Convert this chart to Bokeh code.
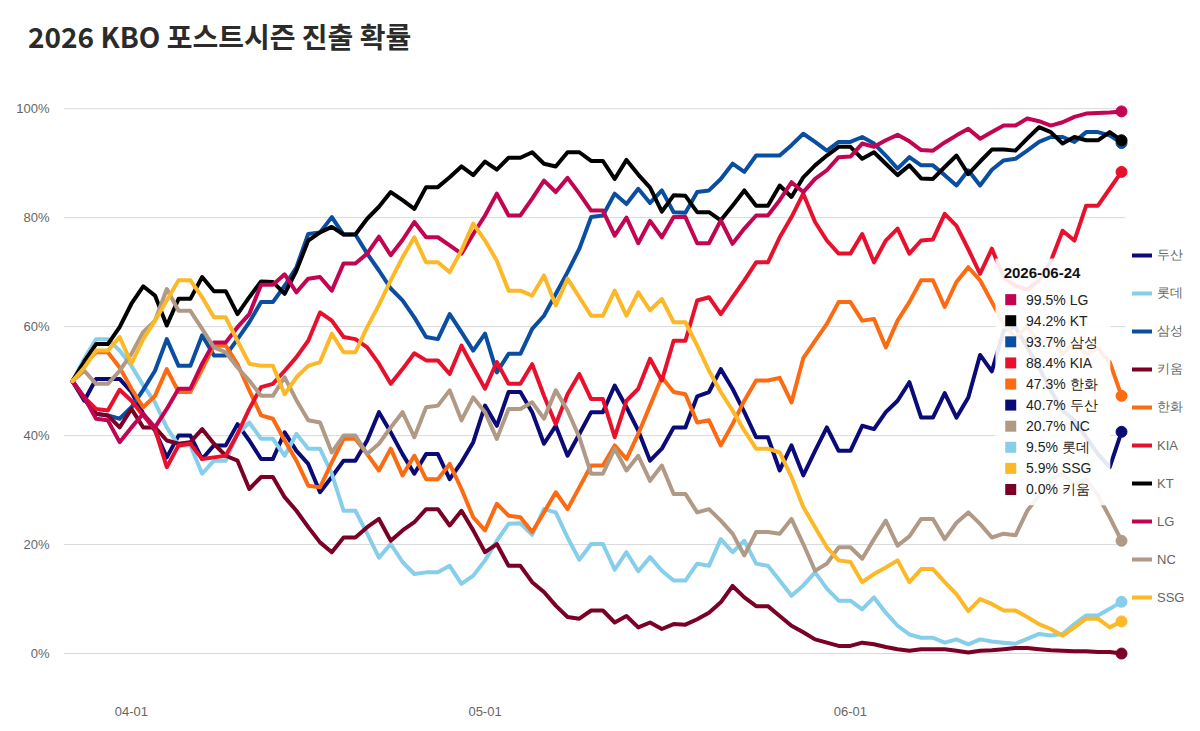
import pandas as pd
from bokeh.plotting import figure
from bokeh.layouts import column
from bokeh.models import (Range1d, FixedTicker, PrintfTickFormatter, DatetimeTickFormatter,
                          Legend, LegendItem, ColumnDataSource, BoxAnnotation, Div)
from bokeh.core.properties import value
from bokeh.embed import file_html
from bokeh.resources import INLINE

# ---------------- data ----------------
dates = pd.date_range("2026-03-27", "2026-06-24", freq="D")
tick_dates = ["2026-04-01", "2026-05-01", "2026-06-01"]
y_ticks = [0, 20, 40, 60, 80, 100]
title_text = "2026 KBO 포스트시즌 진출 확률"

teams = ["두산", "롯데", "삼성", "키움", "한화", "KIA", "KT", "LG", "NC", "SSG"]

doosan = [50, 46.4, 50.4, 50.4, 50.4, 48.0, 44.0, 40.9, 36.0, 40.0, 40.0, 35.7, 38.2, 38.2, 42.1, 39.1, 35.7, 35.7, 40.6, 37.2,
          34.8, 29.6, 32.4, 35.4, 35.4, 39.1, 44.3, 40.6, 36.6, 33.0, 36.6, 36.6, 32.0, 35.1, 38.8, 45.5, 41.8, 48.0, 48.0, 44.3,
          38.5, 41.8, 36.3, 40.3, 44.3, 44.3, 49.2, 45.2, 40.9, 35.4, 37.6, 41.5, 41.5, 47.2, 48.0, 52.2, 48.6, 44.3, 39.7, 39.7,
          33.6, 38.2, 32.7, 37.2, 41.5, 37.2, 37.2, 41.8, 41.2, 44.3, 46.4, 49.8, 43.3, 43.3, 47.8, 43.3, 47.0, 54.8, 51.8, 59.3,
          59.9, 56.2, 52.5, 48.3, 44.6, 42.8, 39.7, 36.6, 34.2, 40.7]
lotte = [50, 54.1, 57.7, 57.7, 55.6, 52.8, 49.2, 46.1, 41.5, 38.2, 38.2, 33.0, 35.4, 35.4, 40.3, 42.4, 39.4, 39.4, 36.3, 40.3,
         37.6, 37.6, 33.0, 26.2, 26.2, 22.0, 17.6, 20.1, 16.8, 14.6, 14.9, 14.9, 16.1, 12.8, 14.3, 17.1, 20.7, 23.8, 23.9, 21.8,
         26.5, 25.9, 21.3, 17.2, 20.1, 20.1, 15.4, 18.6, 15.1, 17.7, 15.2, 13.4, 13.4, 16.5, 16.1, 21.0, 18.6, 20.7, 16.5, 16.1,
         13.4, 10.6, 12.5, 14.9, 11.9, 9.7, 9.7, 8.1, 10.3, 7.5, 5.1, 3.5, 2.9, 2.9, 2.0, 2.6, 1.7, 2.6, 2.2, 2.0,
         1.8, 2.7, 3.6, 3.3, 3.6, 5.4, 7.0, 7.0, 8.2, 9.5]
samsung = [50, 46.7, 44.0, 43.7, 43.1, 45.2, 48.4, 51.9, 57.7, 52.8, 52.8, 58.4, 54.7, 54.7, 57.7, 60.8, 64.5, 64.5, 67.5, 70.9,
           77.0, 77.3, 80.1, 76.9, 76.9, 73.4, 70.3, 67.0, 64.8, 61.7, 58.1, 57.7, 62.3, 59.0, 55.6, 58.7, 51.6, 55.0, 55.0, 59.6,
           62.0, 66.0, 70.0, 74.3, 80.1, 80.4, 84.4, 82.5, 85.3, 82.7, 85.0, 81.0, 80.9, 84.7, 85.0, 87.1, 89.9, 88.4, 91.4, 91.4,
           91.4, 93.3, 95.4, 93.9, 92.3, 93.9, 93.9, 94.8, 93.6, 91.4, 89.0, 91.1, 89.6, 89.6, 87.8, 85.9, 88.7, 85.9, 88.8, 90.5,
           90.8, 92.3, 93.9, 94.8, 94.8, 93.9, 95.7, 95.7, 95.1, 93.7]
kiwoom = [50, 46.7, 44.0, 43.7, 41.5, 44.9, 41.5, 41.5, 39.1, 38.5, 38.8, 41.2, 38.5, 36.3, 35.4, 30.2, 32.4, 32.4, 28.7, 26.2,
          23.2, 20.4, 18.6, 21.3, 21.3, 23.2, 24.7, 20.7, 22.6, 24.1, 26.5, 26.5, 23.5, 26.2, 22.6, 18.6, 20.1, 16.1, 16.1, 13.1,
          11.3, 8.8, 6.7, 6.4, 7.9, 7.9, 5.7, 6.9, 4.8, 5.7, 4.5, 5.4, 5.3, 6.3, 7.5, 9.4, 12.4, 10.3, 8.7, 8.7,
          6.9, 5.1, 3.9, 2.6, 2.0, 1.4, 1.4, 2.0, 1.7, 1.2, 0.8, 0.5, 0.8, 0.8, 0.8, 0.5, 0.2, 0.5, 0.6, 0.8,
          1.0, 1.0, 0.8, 0.6, 0.5, 0.4, 0.4, 0.3, 0.3, 0.0]
hanwha = [50, 53.1, 55.3, 55.3, 52.5, 48.6, 45.2, 47.3, 52.2, 48.0, 48.0, 52.2, 56.5, 56.5, 53.1, 48.3, 43.7, 43.1, 39.1, 35.4,
          30.8, 30.5, 35.1, 39.4, 39.4, 36.6, 33.6, 37.6, 32.7, 36.3, 32.0, 32.0, 34.8, 30.2, 25.0, 22.6, 27.5, 25.3, 25.0, 22.3,
          25.9, 29.6, 26.5, 30.5, 34.5, 34.5, 38.2, 35.7, 40.3, 45.5, 50.7, 48.0, 47.6, 42.4, 42.8, 38.2, 42.1, 46.4, 50.1, 50.1,
          50.6, 46.1, 54.2, 57.4, 60.5, 64.5, 64.5, 61.1, 61.4, 56.2, 61.1, 64.5, 68.5, 68.5, 63.6, 68.2, 70.9, 68.5, 64.5, 60.5,
          58.0, 60.0, 57.0, 58.0, 55.0, 57.0, 55.0, 56.0, 53.5, 47.3]
kia = [50, 47.0, 44.9, 44.6, 48.4, 46.4, 43.7, 41.2, 34.2, 38.2, 38.5, 35.7, 36.0, 36.3, 40.3, 44.9, 48.9, 49.5, 51.9, 54.4,
       57.4, 62.6, 61.1, 58.1, 57.7, 56.2, 53.2, 49.5, 52.2, 55.1, 53.8, 53.8, 51.3, 56.5, 52.5, 48.6, 53.5, 49.5, 49.5, 53.1,
       47.3, 42.1, 47.6, 51.3, 46.7, 46.7, 39.7, 46.4, 48.6, 54.1, 50.1, 57.4, 57.4, 64.8, 65.4, 62.3, 65.4, 68.5, 71.8, 71.8,
       76.4, 80.1, 84.4, 79.2, 75.8, 73.4, 73.4, 77.0, 71.8, 75.8, 78.0, 73.4, 75.8, 76.0, 80.7, 78.5, 74.2, 69.7, 74.3, 69.0,
       67.5, 66.8, 68.5, 72.0, 77.6, 75.8, 82.2, 82.2, 85.3, 88.4]
kt = [50, 53.6, 56.8, 56.8, 59.9, 64.2, 67.4, 65.7, 60.2, 65.1, 65.1, 69.1, 66.5, 66.5, 62.3, 65.4, 68.3, 68.2, 66.0, 70.3,
      75.8, 77.3, 78.3, 76.9, 76.9, 79.8, 82.0, 84.7, 83.2, 81.6, 85.6, 85.6, 87.4, 89.4, 87.8, 90.3, 88.8, 91.0, 91.0, 92.0,
      89.9, 89.4, 92.0, 92.0, 90.4, 90.4, 87.1, 90.6, 87.9, 85.5, 81.1, 84.1, 84.0, 81.0, 81.0, 79.5, 82.2, 85.0, 82.2, 82.2,
      85.9, 83.8, 87.4, 89.6, 91.4, 93.0, 93.0, 90.8, 92.0, 89.9, 87.8, 89.6, 87.2, 87.1, 89.3, 91.4, 88.0, 90.3, 92.5, 92.5,
      92.3, 94.5, 96.6, 95.7, 93.6, 94.8, 94.2, 94.2, 95.7, 94.2]
lg = [50, 47.0, 43.1, 42.8, 38.8, 41.5, 44.0, 41.5, 44.9, 48.6, 48.6, 53.2, 57.1, 57.1, 59.9, 62.3, 67.7, 67.7, 69.6, 66.3,
      68.8, 69.1, 66.6, 71.6, 71.6, 73.4, 76.5, 73.1, 75.9, 79.2, 76.4, 76.4, 74.9, 73.4, 77.0, 80.4, 84.4, 80.4, 80.4, 83.5,
      86.8, 84.7, 87.3, 84.4, 81.3, 81.3, 76.7, 80.0, 75.3, 79.4, 76.4, 80.1, 80.1, 75.3, 75.3, 79.5, 75.2, 78.0, 80.4, 80.4,
      83.2, 86.5, 84.7, 87.1, 88.7, 91.1, 91.2, 93.6, 93.0, 94.2, 95.2, 94.0, 92.4, 92.3, 93.8, 95.1, 96.3, 94.5, 95.7, 96.9,
      96.9, 98.2, 97.7, 96.9, 97.5, 98.5, 99.1, 99.2, 99.3, 99.5]
nc = [50, 51.9, 49.5, 49.5, 51.9, 55.0, 59.0, 61.1, 66.9, 62.9, 62.9, 59.6, 56.2, 55.3, 52.5, 50.1, 47.3, 47.3, 50.7, 46.5,
      42.8, 42.4, 36.9, 40.0, 40.0, 36.6, 38.5, 41.5, 44.3, 39.7, 45.2, 45.5, 48.3, 42.8, 47.0, 44.3, 39.4, 44.9, 44.9, 46.1,
      43.1, 48.3, 44.6, 39.7, 33.0, 33.0, 37.6, 33.6, 36.3, 31.7, 34.5, 29.3, 29.3, 25.9, 26.5, 24.4, 22.0, 18.0, 22.3, 22.3,
      22.0, 24.7, 20.1, 15.2, 16.5, 19.5, 19.5, 17.4, 21.0, 24.4, 19.8, 21.5, 24.7, 24.7, 21.0, 24.0, 25.9, 23.8, 21.3, 22.0,
      21.7, 26.2, 29.0, 32.0, 33.0, 31.0, 32.0, 29.0, 25.0, 20.7]
ssg = [50, 52.5, 55.6, 55.6, 58.1, 53.2, 57.7, 61.1, 64.8, 68.5, 68.5, 65.4, 61.7, 61.7, 57.4, 53.2, 52.8, 52.8, 47.6, 50.7,
       52.8, 53.5, 58.7, 55.3, 55.3, 59.9, 64.0, 68.5, 72.7, 76.4, 71.8, 71.8, 70.0, 74.0, 78.9, 75.8, 72.1, 66.6, 66.6, 65.7,
       69.4, 63.9, 68.8, 65.4, 62.0, 62.0, 66.6, 62.0, 66.3, 63.0, 65.1, 60.8, 60.8, 56.5, 51.9, 48.0, 44.6, 40.9, 37.6, 37.6,
       36.9, 32.4, 26.9, 23.2, 19.5, 17.1, 16.8, 13.1, 14.6, 15.8, 17.1, 13.1, 15.5, 15.5, 13.1, 10.9, 7.8, 10.0, 9.1, 7.9,
       7.9, 6.7, 5.4, 4.5, 3.3, 4.8, 6.4, 6.4, 4.8, 5.9]

values = {"두산": doosan, "롯데": lotte, "삼성": samsung, "키움": kiwoom, "한화": hanwha,
          "KIA": kia, "KT": kt, "LG": lg, "NC": nc, "SSG": ssg}
colors = {"두산": "#0b0b78", "롯데": "#87ceeb", "삼성": "#0a4ea2", "키움": "#7b0026", "한화": "#fc6a12",
          "KIA": "#e8112d", "KT": "#000000", "LG": "#c30452", "NC": "#b09a85", "SSG": "#fcb827"}

LATIN = "Liberation Sans"

# ---------------- title ----------------
TITLE_H = 70
title_div = Div(
    text=(f'<div style="font-family: \'Noto Sans CJK KR\', sans-serif; font-weight: bold; '
          f'font-size: 28px; line-height: 28px; color: #2b2b2b; padding: 22px 0 0 28px; '
          f'white-space: nowrap;">{title_text}</div>'),
    width=1200, height=TITLE_H, margin=(0, 0, 0, 0))

# ---------------- main chart ----------------
day = pd.Timedelta(days=1)
x_start = dates[0] - 0.763 * day
grid_end = dates[-1] + 0.34 * day
p = figure(width=1200, height=731 - TITLE_H, x_axis_type="datetime", output_backend="svg",
           toolbar_location=None,
           x_range=Range1d(x_start, dates[-1] + 6.7 * day),
           y_range=Range1d(-7.7, 101.5),
           min_border_left=63, min_border_right=0, min_border_top=100 - TITLE_H, min_border_bottom=36)

p.outline_line_color = None
p.background_fill_color = "white"
p.border_fill_color = "white"
p.xgrid.visible = False
p.ygrid.visible = False

# horizontal grid lines, ending at the last date
p.segment(x0=[x_start] * len(y_ticks), x1=[grid_end] * len(y_ticks), y0=y_ticks, y1=y_ticks,
          line_color="#d9d9d9", line_width=1, level="underlay")

p.yaxis.ticker = FixedTicker(ticks=y_ticks)
p.yaxis.formatter = PrintfTickFormatter(format="%d%%")
p.xaxis.ticker = FixedTicker(ticks=[pd.Timestamp(d).value // 10**6 for d in tick_dates])
p.xaxis.formatter = DatetimeTickFormatter(days="%m-%d", months="%m-%d", years="%m-%d",
                                          hours="%m-%d", minutes="%m-%d")
for ax in (p.xaxis, p.yaxis):
    ax.axis_line_color = None
    ax.major_tick_line_color = None
    ax.minor_tick_line_color = None
    ax.major_label_text_color = "#666666"
    ax.major_label_text_font = LATIN
    ax.major_label_text_font_size = "13px"
p.yaxis.major_label_standoff = 8
p.xaxis.major_label_standoff = 5

renderers = {}
for t in teams:
    src = ColumnDataSource(dict(x=dates, y=values[t]))
    r = p.line("x", "y", source=src, line_width=4, line_color=colors[t],
               line_join="round", line_cap="round")
    renderers[t] = r

# end markers
last_src = ColumnDataSource(dict(x=[dates[-1]] * len(teams), y=[values[t][-1] for t in teams],
                                 c=[colors[t] for t in teams]))
p.scatter("x", "y", source=last_src, size=11, fill_color="c", line_color="c")

# legend at the right edge
legend = Legend(items=[LegendItem(label=t, renderers=[renderers[t]]) for t in teams],
                location=(1063, 82), orientation="vertical",
                glyph_width=20, glyph_height=20, label_height=20, spacing=18,
                label_standoff=5, padding=6, margin=0,
                label_text_font=LATIN, label_text_font_size="13px", label_text_color="#666666",
                border_line_alpha=0, background_fill_alpha=0)
p.add_layout(legend)

# tooltip-like box for the final date
last = dates[-1]
box = BoxAnnotation(left=last - 10.7 * day, right=last - 0.95 * day, top=72.5, bottom=27.2,
                    fill_color="white", fill_alpha=0.9, line_color=None)
p.add_layout(box)

order = sorted(teams, key=lambda t: values[t][-1], reverse=True)
row_y = [(653 - (299 + 21.1 * i)) / 5.45 for i in range(len(order))]
p.text(x=[last - 10.0 * day], y=[(653 - 272) / 5.45], text=[last.strftime("%Y-%m-%d")],
       text_font=value(LATIN), text_font_style="bold", text_font_size="15px",
       text_color="#111111", text_align="left", text_baseline="middle", level="overlay")
p.scatter(x=[last - 9.4 * day] * len(order), y=row_y, marker="square", size=11,
          fill_color=[colors[t] for t in order], line_color=None, level="overlay")
p.text(x=[last - 8.1 * day] * len(order), y=row_y,
       text=[f"{values[t][-1]:.1f}% {t}" for t in order],
       text_font=value(LATIN), text_font_size="14px", text_color="#222222",
       text_align="left", text_baseline="middle", level="overlay")

page = column(title_div, p, spacing=0)
open("out.html", "w").write(file_html(page, INLINE))
